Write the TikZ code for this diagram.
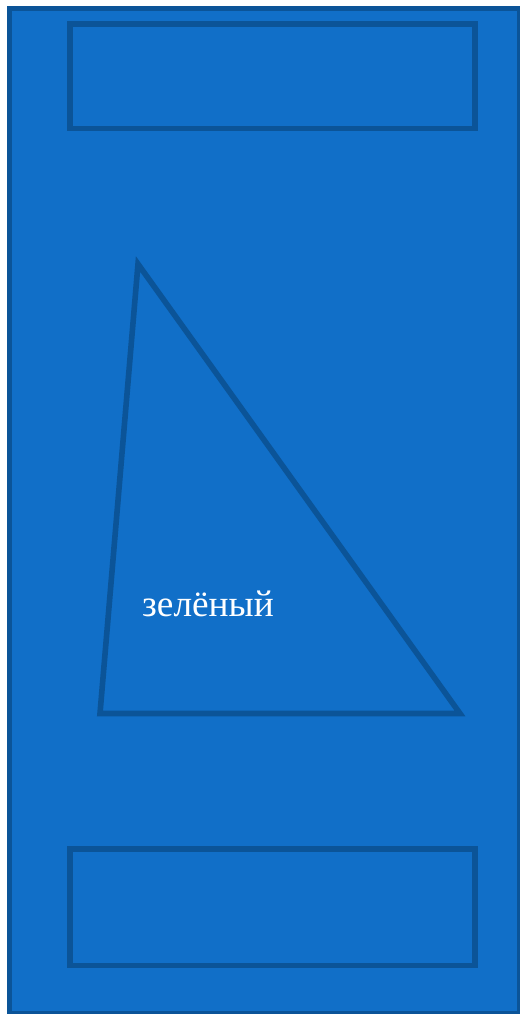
\documentclass[tikz,border=0pt]{standalone}
\usepackage{fontspec}
\setmainfont{Liberation Serif}
\definecolor{panelblue}{RGB}{17,111,200}
\definecolor{edgeblue}{RGB}{11,84,152}
\begin{document}
\begin{tikzpicture}[x=0.75pt,y=-0.75pt,line cap=butt,line join=miter,
  edge/.style={draw=edgeblue,line width=4.2pt}]
  \useasboundingbox (0,0) rectangle (519,1014);
  \fill[white] (0,0) rectangle (519,1014);
  \draw[edge,fill=panelblue,line width=3.8pt] (9.5,8.5) rectangle (519.5,1013.5);
  \draw[edge] (70,24) rectangle (475,128.5);
  \draw[edge] (70,849) rectangle (475,965.5);
  \draw[edge] (138,264) -- (460,713.5) -- (100,713.5) -- cycle;
  \node[text=white,font=\fontsize{28}{33}\selectfont,inner sep=0pt] (lbl) at (208,604) {зелёный};
\end{tikzpicture}
\end{document}
